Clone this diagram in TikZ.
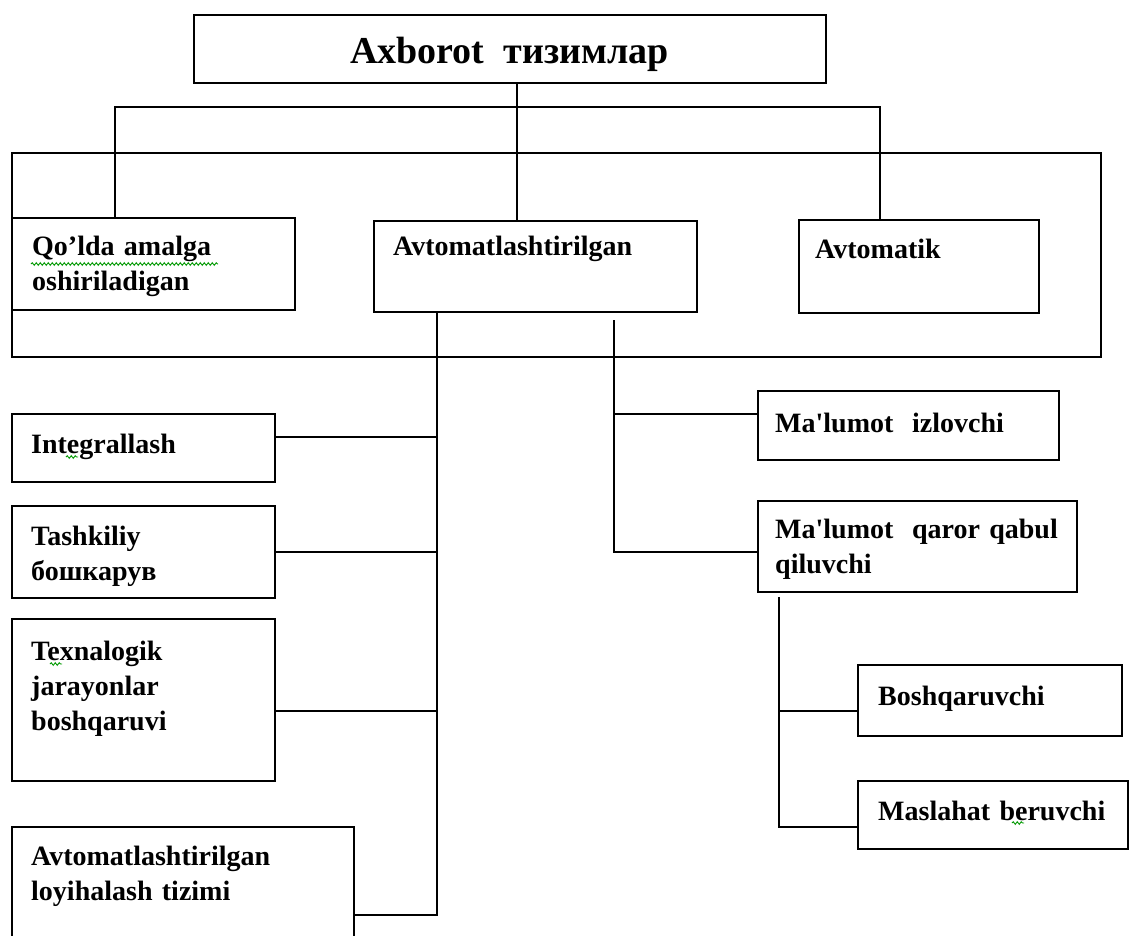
\documentclass[tikz,border=0pt]{standalone}
\usepackage{fontspec}
\setmainfont{Liberation Serif}
\usetikzlibrary{decorations.pathmorphing}
\begin{document}
\begin{tikzpicture}[x=1pt,y=-1pt,
  box/.style 2 args={draw, line width=1.8pt, rectangle, inner sep=0pt, outer sep=0pt,
    anchor=north west, minimum width=#1pt, minimum height=#2pt},
  lbl/.style={anchor=base west, inner sep=0pt, text width=330pt, align=left,
    font=\fontsize{28}{35}\selectfont\bfseries},
  ttl/.style={anchor=base west, inner sep=0pt, font=\fontsize{38}{44}\selectfont\bfseries},
  conn/.style={line width=1.8pt},
  squig/.style={draw=green!60!black, line width=0.9pt, decorate,
    decoration={snake, amplitude=1.3pt, segment length=4pt}}
]
\useasboundingbox (0,0) rectangle (1131,935);
\clip (0,0) rectangle (1131,935);
\fill[white] (0,0) rectangle (1131,935);

% boxes
\node[box={1089}{204}] (outer) at (12,153) {};
\node[box={632}{68}]  (top)   at (194,15) {};
\node[box={283}{92}]  (qolda) at (12,218) {};
\node[box={323}{91}]  (av)    at (374,221) {};
\node[box={240}{93}]  (am)    at (799,220) {};
\node[box={263}{68}]  (integ) at (12,414) {};
\node[box={263}{92}]  (tash)  at (12,506) {};
\node[box={263}{162}] (tex)   at (12,619) {};
\node[box={342}{150}] (loy)   at (12,827) {};
\node[box={301}{69}]  (izl)   at (758,391) {};
\node[box={319}{91}]  (qar)   at (758,501) {};
\node[box={264}{71}]  (bosh)  at (858,665) {};
\node[box={270}{68}]  (masl)  at (858,781) {};

% texts
\node[ttl] (topT) at (350,63) {Axborot\ \ тизимлар};
\node[lbl] (qoldaT) at (32,255) {Qo’lda amalga\\oshiriladigan};
\node[lbl] (avT) at (393,255) {Avtomatlashtirilgan};
\node[lbl] (amT) at (815,258) {Avtomatik};
\node[lbl] (integT) at (31,453) {Integrallash};
\node[lbl] (tashT) at (31,545) {Tashkiliy\\бошкарув};
\node[lbl] (texT) at (31,660) {Texnalogik\\jarayonlar\\boshqaruvi};
\node[lbl] (loyT) at (31,865) {Avtomatlashtirilgan\\loyihalash tizimi};
\node[lbl] (izlT) at (775,432) {Ma\textquotesingle lumot\ \ izlovchi};
\node[lbl] (qarT) at (775,538) {Ma\textquotesingle lumot\ \ qaror qabul\\qiluvchi};
\node[lbl] (boshT) at (878,705) {Boshqaruvchi};
\node[lbl] (maslT) at (878,820) {Maslahat beruvchi};

% spell-check marks
\draw[squig] (31,264) -- (218,264);
\draw[squig] (66,457) -- (78,457);
\draw[squig] (50,664) -- (62,664);
\draw[squig] (1012,823) -- (1024,823);

% top connectors
\coordinate (b1) at (115,107);
\coordinate (b2) at (517,107);
\coordinate (b3) at (880,107);
\draw[conn] (qolda.north -| b1) -- (b1) -- (b3) -- (am.north -| b3);
\draw[conn] (top.south -| b2) -- (av.north -| b2);

% trunk 1
\coordinate (t1)  at (437,915);
\coordinate (t1a) at (437,437);
\coordinate (t1b) at (437,552);
\coordinate (t1c) at (437,711);
\draw[conn] (av.south -| t1) -- (t1) -- (loy.east |- t1);
\draw[conn] (integ.east |- t1a) -- (t1a);
\draw[conn] (tash.east |- t1b) -- (t1b);
\draw[conn] (tex.east |- t1c) -- (t1c);

% trunk 2
\coordinate (t2s) at (614,320);
\coordinate (t2a) at (614,414);
\coordinate (t2e) at (614,552);
\draw[conn] (t2s) -- (t2e) -- (qar.west |- t2e);
\draw[conn] (t2a) -- (izl.west |- t2a);

% trunk 3
\coordinate (t3s) at (779,597);
\coordinate (t3a) at (779,711);
\coordinate (t3e) at (779,827);
\draw[conn] (t3s) -- (t3e) -- (masl.west |- t3e);
\draw[conn] (t3a) -- (bosh.west |- t3a);
\end{tikzpicture}
\end{document}
